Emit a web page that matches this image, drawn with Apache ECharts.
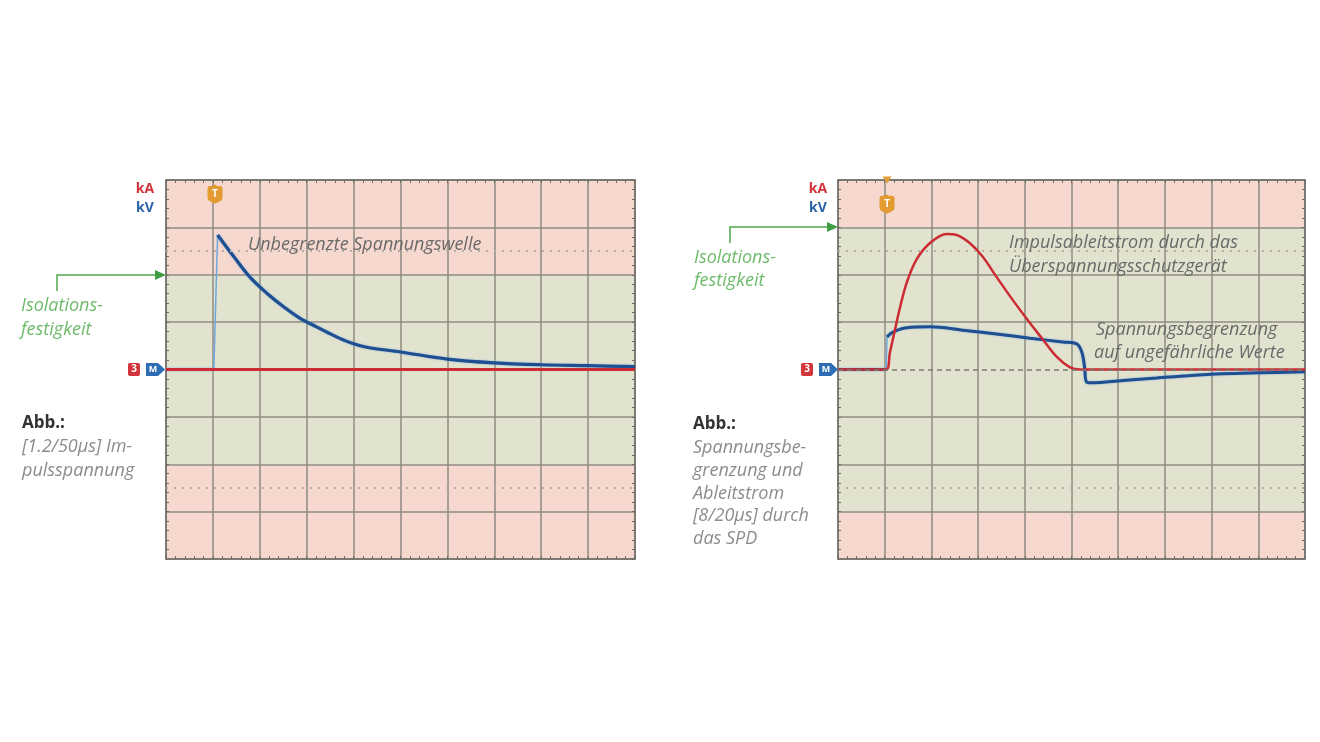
<!DOCTYPE html>
<html>
<head>
<meta charset="utf-8">
<script src="https://cdn.jsdelivr.net/npm/echarts@6/dist/echarts.min.js"></script>
<style>
  html, body { margin: 0; background: #fff; }
  #scope { width: 1320px; height: 742px; }
</style>
</head>
<body>
<div id="scope"></div>
<script>
  // Skala: 10 Teile horizontal, 8 Teile vertikal (-4..4)
  const xTicks = [0, 10];
  const yTicks = [-4, 4];

  // Isolationsfestigkeit (gruenes Band) je Bild
  const bandLeft = [-2, 2];
  const bandRight = [-3, 3];

  // links: 1.2/50us Impulsspannung (kV)
  const blueLeftT = [0, 1.02, 1.1, 1.44, 1.79, 2.15, 2.5, 2.86, 3.21, 3.57, 3.92, 4.28, 5, 6, 7, 8, 9, 10];
  const blueLeftV = [0, 0, 2.84, 2.39, 1.95, 1.61, 1.33, 1.08, 0.9, 0.72, 0.57, 0.47, 0.37, 0.22, 0.14, 0.1, 0.08, 0.06];
  const redLeftT = [0, 10];
  const redLeftV = [0, 0];

  // rechts: Spannungsbegrenzung (kV) und Ableitstrom 8/20us (kA)
  const blueRightT = [0, 1.03, 1.05, 1.18, 1.47, 1.97, 2.67, 3.39, 4.11, 4.81, 5.11, 5.22, 5.28, 5.32, 5.43, 6.1, 6.82, 7.5, 8.24, 9, 10];
  const blueRightV = [0, 0, 0.69, 0.79, 0.88, 0.9, 0.83, 0.75, 0.66, 0.58, 0.54, 0.37, 0.05, -0.26, -0.28, -0.23, -0.18, -0.13, -0.09, -0.07, -0.05];
  const redRightT = [0, 1.03, 1.11, 1.22, 1.33, 1.47, 1.68, 1.97, 2.33, 2.54, 2.82, 3.10, 3.39, 3.74, 4.11, 4.39, 4.68, 4.96, 5.18, 10];
  const redRightV = [0, 0, 0.35, 0.84, 1.32, 1.83, 2.32, 2.67, 2.86, 2.84, 2.67, 2.38, 1.96, 1.47, 0.98, 0.63, 0.27, 0.05, 0, 0];

  // Trigger-Marke (T) je Bild
  const triggerLeft = [1.045, 3.7];
  const triggerRight = [1.05, 3.49];

  const PINK = '#f6d8cf';
  const GREEN = '#e1e3cf';
  const GRIDC = '#8f8b82';
  const BORDER = '#6e6d68';
  const BLUE = '#1f4f91';
  const LIGHTBLUE = '#6ea8dc';
  const RED = '#cc2b33';
  const FONT = '"Open Sans", Roboto, sans-serif';

  function pairs(t, v, from, to) {
    const out = [];
    for (let i = from; i < to; i++) out.push([t[i], v[i]]);
    return out;
  }

  function bandColors(band) {
    const c = [];
    for (let y = yTicks[0]; y < yTicks[1]; y++) {
      c.push(y >= band[0] && y < band[1] ? GREEN : PINK);
    }
    return c;
  }

  function edgeAxis(kind, gridIndex, position) {
    return {
      type: 'value', gridIndex: gridIndex,
      min: kind === 'x' ? xTicks[0] : yTicks[0],
      max: kind === 'x' ? xTicks[1] : yTicks[1],
      interval: 1,
      position: position,
      axisLine: { show: true, onZero: false, lineStyle: { color: BORDER, width: 1.5 } },
      axisTick: { show: true, inside: true, length: 3, lineStyle: { color: BORDER } },
      minorTick: { show: true, splitNumber: 5, length: 3, lineStyle: { color: BORDER } },
      axisLabel: { show: false },
      splitLine: { show: false }
    };
  }

  function xAxes(gridIndex) {
    const bottom = edgeAxis('x', gridIndex, 'bottom');
    bottom.splitLine = { show: true, lineStyle: { color: GRIDC, width: 1.5 } };
    return [bottom, edgeAxis('x', gridIndex, 'top')];
  }

  function yAxes(gridIndex, band, dashedZero) {
    const lineColors = [];
    for (let y = yTicks[0]; y <= yTicks[1]; y++) {
      lineColors.push(dashedZero && y === 0 ? 'rgba(0,0,0,0)' : GRIDC);
    }
    const left = edgeAxis('y', gridIndex, 'left');
    left.splitLine = { show: true, lineStyle: { color: lineColors, width: 1.5 } };
    left.splitArea = { show: true, areaStyle: { color: bandColors(band) } };
    return [left, edgeAxis('y', gridIndex, 'right')];
  }

  const shield = 'path://M0,3 Q0,1 2,1 L5,1 L5,0 L7,0 L7,1 L10,1 Q12,1 12,3 L12,11 Q12,13 10,14 L6,16 L2,14 Q0,13 0,11 Z';

  function triggerMark(coord, extraTop) {
    const data = [{ coord: coord, symbol: shield, symbolSize: [15, 19] }];
    if (extraTop) {
      data.push({ coord: [coord[0], 4], symbol: 'triangle', symbolRotate: 180, symbolSize: [9, 7], label: { show: false } });
    }
    return {
      silent: true,
      itemStyle: { color: '#e39b32' },
      label: { show: true, formatter: 'T', position: 'inside', color: '#fff', fontWeight: 'bold', fontSize: 10, fontFamily: FONT, offset: [0, 0] },
      data: data
    };
  }

  function guideLines(xIdx, yIdx, dashedZero) {
    const data = [
      { yAxis: 2.5, lineStyle: { type: [2, 6], color: '#b3afa4', width: 2 } },
      { yAxis: -2.5, lineStyle: { type: [2, 6], color: '#b3afa4', width: 2 } }
    ];
    if (dashedZero) data.push({ yAxis: 0, lineStyle: { type: [5, 4], color: '#7d7a72', width: 1.5 } });
    return {
      type: 'line', xAxisIndex: xIdx, yAxisIndex: yIdx, data: [], z: 1,
      markLine: { silent: true, symbol: 'none', animation: false, label: { show: false }, data: data }
    };
  }

  function trace(xIdx, yIdx, data, color, width, extra) {
    const isBlue = color === BLUE;
    return Object.assign({
      type: 'line', xAxisIndex: xIdx, yAxisIndex: yIdx, data: data,
      showSymbol: false, symbol: 'none', smooth: 0.35,
      lineStyle: { color: color, width: width, shadowColor: isBlue ? 'rgba(110,168,220,0.8)' : 'rgba(0,0,0,0)', shadowBlur: isBlue ? 2 : 0 },
      z: 3
    }, extra || {});
  }

  // Beschriftungen ausserhalb der Skala
  function txt(x, y, s, style) {
    return {
      type: 'text', x: x, y: y, silent: true, z: 100,
      style: Object.assign({ text: s, fontFamily: FONT, fontSize: 15, fill: '#888', textVerticalAlign: 'middle' }, style)
    };
  }
  function badges(x0) {
    return [
      { type: 'rect', z: 100, shape: { x: x0, y: 363, width: 12, height: 13, r: 2 }, style: { fill: '#d3343a' } },
      txt(x0 + 6, 369.5, '3', { fill: '#fff', fontSize: 10, fontWeight: 'bold', textAlign: 'center' }),
      { type: 'polygon', z: 100, shape: { points: [[x0 + 18, 363], [x0 + 30, 363], [x0 + 37, 369.5], [x0 + 30, 376], [x0 + 18, 376]] }, style: { fill: '#2c6db4' } },
      txt(x0 + 25, 369.5, 'M', { fill: '#fff', fontSize: 9, fontWeight: 'bold', textAlign: 'center' })
    ];
  }
  function arrow(xs, yTop, yLow, xe) {
    return [
      { type: 'polyline', z: 100, shape: { points: [[xs, yLow], [xs, yTop], [xe - 9, yTop]] }, style: { stroke: '#4fa84f', lineWidth: 1.5, fill: null } },
      { type: 'polygon', z: 100, shape: { points: [[xe - 11, yTop - 5], [xe, yTop], [xe - 11, yTop + 5]] }, style: { fill: '#3f9d43' } }
    ];
  }

  const note = { fontStyle: 'italic', fill: '#6a6a6a', fontSize: 18 };
  const side = { fontStyle: 'italic', fill: '#8c8c8c', fontSize: 18 };
  const iso = { fontStyle: 'italic', fill: '#6dbb6b', fontSize: 18 };
  const abb = { fill: '#333', fontSize: 17, fontWeight: 'bold' };
  const unitA = { fill: '#d2343b', fontSize: 14, fontWeight: 'bold', textAlign: 'center' };
  const unitV = { fill: '#2b63a9', fontSize: 14, fontWeight: 'bold', textAlign: 'center' };

  const graphic = [].concat(
    [
      txt(145, 189, 'kA', unitA),
      txt(145, 208, 'kV', unitV),
      txt(818, 189, 'kA', unitA),
      txt(818, 208, 'kV', unitV)
    ],
    badges(128),
    badges(801),
    arrow(57, 275, 291, 166),
    arrow(730, 227, 243, 838),
    [
      txt(21, 306, 'Isolations-', iso),
      txt(21, 330, 'festigkeit', iso),
      txt(694, 258, 'Isolations-', iso),
      txt(694, 281, 'festigkeit', iso),

      txt(22, 423, 'Abb.:', abb),
      txt(22, 447, '[1.2/50µs] Im-', side),
      txt(22, 471, 'pulsspannung', side),

      txt(693, 424, 'Abb.:', abb),
      txt(693, 448, 'Spannungsbe-', side),
      txt(693, 471, 'grenzung und', side),
      txt(693, 494, 'Ableitstrom', side),
      txt(693, 516, '[8/20µs] durch', side),
      txt(693, 539, 'das SPD', side),

      txt(248, 245, 'Unbegrenzte Spannungswelle', note),
      txt(1009, 243, 'Impulsableitstrom durch das', note),
      txt(1009, 267, 'Überspannungsschutzgerät', note),
      txt(1096, 330, 'Spannungsbegrenzung', note),
      txt(1094, 353, 'auf ungefährliche Werte', note)
    ]
  );

  const option = {
    animation: false,
    backgroundColor: '#ffffff',
    grid: [
      { left: 166, top: 180, width: 469, height: 379, show: false },
      { left: 838, top: 180, width: 467, height: 379, show: false }
    ],
    xAxis: xAxes(0).concat(xAxes(1)),
    yAxis: yAxes(0, bandLeft, false).concat(yAxes(1, bandRight, true)),
    series: [
      guideLines(0, 0, false),
      guideLines(2, 2, true),
      // links
      trace(0, 0, pairs(blueLeftT, blueLeftV, 0, 2), BLUE, 3),
      trace(0, 0, pairs(blueLeftT, blueLeftV, 1, 3), LIGHTBLUE, 1.5, { smooth: false }),
      trace(0, 0, pairs(blueLeftT, blueLeftV, 2, blueLeftT.length), BLUE, 3.2, { markPoint: triggerMark(triggerLeft, false) }),
      trace(0, 0, pairs(redLeftT, redLeftV, 0, redLeftT.length), RED, 3, { z: 4 }),
      // rechts
      trace(2, 2, pairs(blueRightT, blueRightV, 0, 2), BLUE, 3),
      trace(2, 2, pairs(blueRightT, blueRightV, 1, 3), LIGHTBLUE, 1.5, { smooth: false }),
      trace(2, 2, pairs(blueRightT, blueRightV, 2, blueRightT.length), BLUE, 3, { markPoint: triggerMark(triggerRight, true) }),
      trace(2, 2, pairs(redRightT, redRightV, 0, redRightT.length), RED, 2.5, { z: 4 })
    ],
    graphic: graphic
  };

  const chart = echarts.init(document.getElementById('scope'));
  chart.setOption(option);
</script>
</body>
</html>
